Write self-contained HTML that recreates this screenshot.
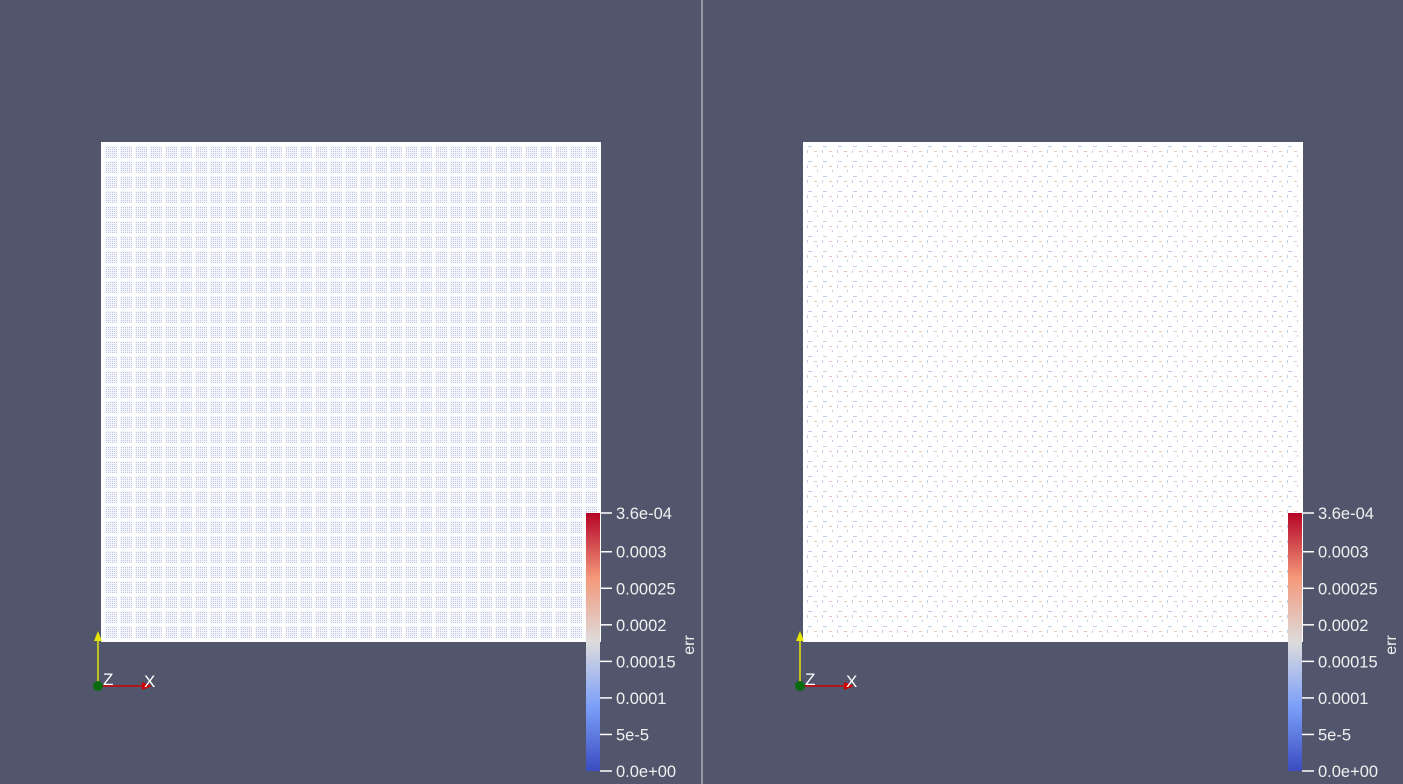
<!DOCTYPE html>
<html><head><meta charset="utf-8"><style>
html,body{margin:0;padding:0;background:#52566c;}
svg{display:block;font-family:"Liberation Sans",sans-serif;}
</style></head><body>
<svg width="1403" height="784" viewBox="0 0 1403 784">
<defs>
<pattern id="dots" width="2" height="2" patternUnits="userSpaceOnUse"><rect width="2" height="2" fill="#f4f5fb"/><rect width="1" height="1" fill="#c2c8e4"/></pattern>
<pattern id="cells" x="104" y="145" width="15" height="15" patternUnits="userSpaceOnUse"><rect width="15" height="15" fill="#fff"/><rect x="1" y="1" width="12" height="12" fill="url(#dots)"/></pattern>
<pattern id="sparse" x="806" y="145" width="15" height="15" patternUnits="userSpaceOnUse"><rect width="15" height="15" fill="#fff"/><rect x="2" y="1" width="4" height="1" fill="#c8cbe8"/><rect x="1" y="5" width="1" height="3" fill="#c8cbe8"/><rect x="8" y="6" width="3" height="1" fill="#e9c4b8"/><rect x="11" y="10" width="1" height="2" fill="#c8cbe8"/></pattern>
<linearGradient id="cmap" x1="0" y1="1" x2="0" y2="0">
<stop offset="0" stop-color="#3b4cc0"/><stop offset="0.25" stop-color="#7b9ff9"/><stop offset="0.5" stop-color="#dddcdc"/><stop offset="0.75" stop-color="#f4987a"/><stop offset="1" stop-color="#b40426"/>
</linearGradient>
</defs>
<line x1="702" y1="0" x2="702" y2="784" stroke="#d8d8d8" stroke-width="1"/>
<rect x="102" y="143" width="498" height="498" fill="url(#cells)"/>
<rect x="102" y="143" width="498" height="498" fill="none" stroke="#fff" stroke-width="2"/>
<rect x="804" y="143" width="498" height="498" fill="url(#sparse)"/>
<rect x="804" y="143" width="498" height="498" fill="none" stroke="#fff" stroke-width="2"/>
<g id="cbars"></g>
<g id="axes"></g>
</svg>
<script>
const tickValues=[0.000353,0.0003,0.00025,0.0002,0.00015,0.0001,0.00005,0];
const tickLabels=["3.6e-04","0.0003","0.00025","0.0002","0.00015","0.0001","5e-5","0.0e+00"];
const rangeMin=0, rangeMax=0.000353;
const NS="http://www.w3.org/2000/svg";
const g=document.getElementById('cbars');
function yScale(v){return 771-(v-rangeMin)/(rangeMax-rangeMin)*258;}
function mk(tag,attrs,parent){const e=document.createElementNS(NS,tag);for(const k in attrs)e.setAttribute(k,attrs[k]);parent.appendChild(e);return e;}
[586,1288].forEach((bx,i)=>{
  const bar=mk('rect',{x:bx,y:513,width:14,height:258,fill:'url(#cmap)'},g);
  
  
  tickValues.forEach((v,j)=>{
    const y=yScale(v);
    const t=mk('line',{x1:bx+14,y1:y,x2:bx+26,y2:y,stroke:'#fff','stroke-width':1.5},g);
    
    
    const tx=mk('text',{x:bx+30,y:y+6,fill:'#f0f0f0','font-size':16.5},g);
    tx.textContent=tickLabels[j];
    
    
  });
  const tt=mk('text',{x:0,y:0,fill:'#f0f0f0','font-size':16,transform:`translate(${bx+108},645) rotate(-90)`,'text-anchor':'middle'},g);
  tt.textContent='err';
  
  
});
const a=document.getElementById('axes');
[98,800].forEach(ox=>{
  const oy=686;
  mk('line',{x1:ox,y1:oy,x2:ox,y2:640,stroke:'#e6e600','stroke-width':1.5},a);
  mk('polygon',{points:`${ox-4},${641} ${ox+4},${641} ${ox},${631}`,fill:'#e6e600'},a);
  mk('line',{x1:ox,y1:oy,x2:ox+46,y2:oy,stroke:'#d00000','stroke-width':1.5},a);
  mk('polygon',{points:`${ox+44},${oy-4} ${ox+44},${oy+4} ${ox+54},${oy}`,fill:'#d00000'},a);
  const c=mk('circle',{cx:ox,cy:oy,r:5,fill:'#0a6a10'},a);
  
  
  const z=mk('text',{x:ox+5,y:oy-1,fill:'#fff','font-size':17},a);z.textContent='Z';
  
  
  const x=mk('text',{x:ox+46,y:oy+1,fill:'#fff','font-size':17},a);x.textContent='X';
  
  
});
</script>
</body></html>
